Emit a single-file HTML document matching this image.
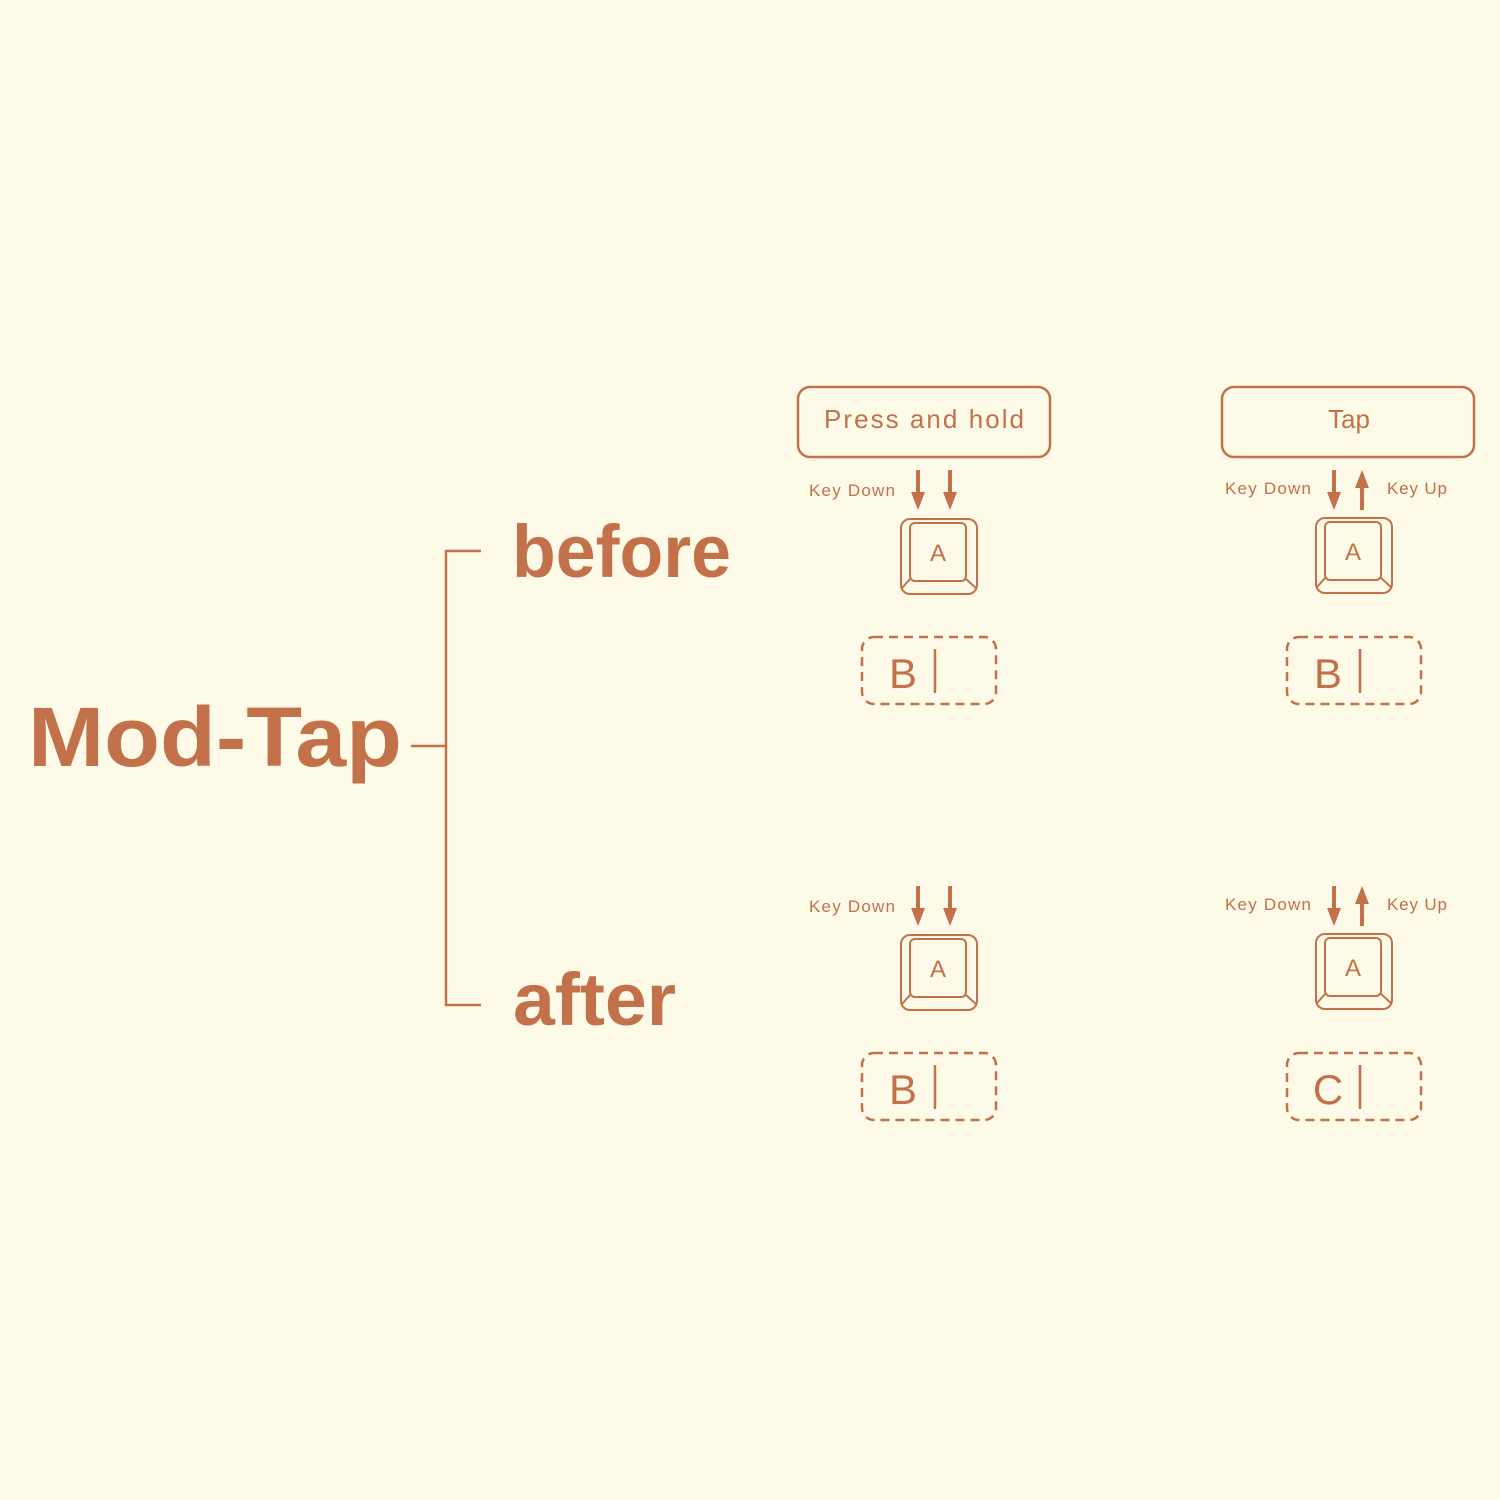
<!DOCTYPE html>
<html><head><meta charset="utf-8"><style>
html,body{margin:0;padding:0;background:#fdfae8;}
svg{display:block}
text{font-family:"Liberation Sans",sans-serif;fill:#c2714a}
</style></head><body>
<svg width="1500" height="1500" viewBox="0 0 1500 1500" xmlns="http://www.w3.org/2000/svg">
<rect width="1500" height="1500" fill="#fdfae8"/>
<defs>
<g id="key" fill="none" stroke="#c2714a" stroke-width="2">
<rect x="1" y="1" width="76" height="75" rx="9"/>
<rect x="10" y="5" width="56" height="58" rx="5"/>
<line x1="10" y1="61" x2="2" y2="70"/>
<line x1="66" y1="61" x2="76" y2="70"/>
</g>
<g id="dn"><line x1="0" y1="0" x2="0" y2="26" stroke="#c2714a" stroke-width="4"/><polygon points="-7,22 7,22 0,40" fill="#c2714a"/></g>
<g id="up"><line x1="0" y1="14" x2="0" y2="40" stroke="#c2714a" stroke-width="4"/><polygon points="-7,18 7,18 0,0" fill="#c2714a"/></g>
<g id="dash"><rect x="1" y="1" width="134" height="67" rx="12" fill="none" stroke="#c2714a" stroke-width="2.5" stroke-dasharray="9,6"/><line x1="74" y1="13" x2="74" y2="57" stroke="#c2714a" stroke-width="2.5"/></g>
</defs>
<g stroke="#c2714a" stroke-width="2.5" fill="none">
<polyline points="481,551 446,551 446,1005 481,1005"/>
<line x1="411" y1="746" x2="446" y2="746"/>
<rect x="798" y="387" width="252" height="70" rx="12"/>
<rect x="1222" y="387" width="252" height="70" rx="12"/>
</g>
<text x="28" y="766" font-size="84" font-weight="bold" textLength="374" lengthAdjust="spacingAndGlyphs">Mod-Tap</text>
<text x="512" y="577" font-size="74" font-weight="bold" textLength="219" lengthAdjust="spacingAndGlyphs">before</text>
<text x="513" y="1025" font-size="74" font-weight="bold" textLength="163" lengthAdjust="spacingAndGlyphs">after</text>
<text x="824" y="428" font-size="26" textLength="200">Press and hold</text>
<text x="1349" y="428" font-size="26" text-anchor="middle">Tap</text>
<!-- top left -->
<text x="809" y="496" font-size="17" textLength="86">Key Down</text>
<use href="#dn" x="918" y="470"/><use href="#dn" x="950" y="470"/>
<use href="#key" x="900" y="518"/><text x="938" y="561" font-size="24" text-anchor="middle">A</text>
<use href="#dash" x="861" y="636"/><text x="903" y="688" font-size="42" text-anchor="middle">B</text>
<!-- top right -->
<text x="1225" y="494" font-size="17" textLength="86">Key Down</text>
<text x="1387" y="494" font-size="17" textLength="60">Key Up</text>
<use href="#dn" x="1334" y="470"/><use href="#up" x="1362" y="470"/>
<use href="#key" x="1315" y="517"/><text x="1353" y="560" font-size="24" text-anchor="middle">A</text>
<use href="#dash" x="1286" y="636"/><text x="1328" y="688" font-size="42" text-anchor="middle">B</text>
<!-- bottom left -->
<text x="809" y="912" font-size="17" textLength="86">Key Down</text>
<use href="#dn" x="918" y="886"/><use href="#dn" x="950" y="886"/>
<use href="#key" x="900" y="934"/><text x="938" y="977" font-size="24" text-anchor="middle">A</text>
<use href="#dash" x="861" y="1052"/><text x="903" y="1104" font-size="42" text-anchor="middle">B</text>
<!-- bottom right -->
<text x="1225" y="910" font-size="17" textLength="86">Key Down</text>
<text x="1387" y="910" font-size="17" textLength="60">Key Up</text>
<use href="#dn" x="1334" y="886"/><use href="#up" x="1362" y="886"/>
<use href="#key" x="1315" y="933"/><text x="1353" y="976" font-size="24" text-anchor="middle">A</text>
<use href="#dash" x="1286" y="1052"/><text x="1328" y="1104" font-size="42" text-anchor="middle">C</text>
</svg>
</body></html>
